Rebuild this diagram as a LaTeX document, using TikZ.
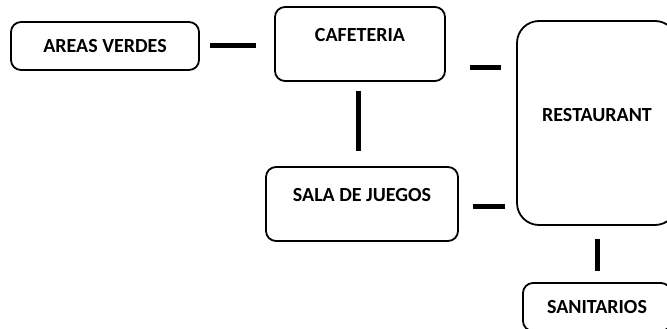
\documentclass[tikz,border=0pt]{standalone}
\usepackage{fontspec}
\setmainfont{Carlito}
\usetikzlibrary{calc,positioning}

\begin{document}
\begin{tikzpicture}[
  x=1pt, y=-1pt,
  every node/.style={font=\fontsize{20}{24}\selectfont\bfseries},
  area/.style={
    draw, line width=1.8pt, rounded corners=10pt, inner sep=0pt,
  },
  areatext/.style={inner sep=0pt},
  link/.style={line width=5pt},
]
\useasboundingbox (0,0) rectangle (667,329);
\clip (0,0) rectangle (667,329);

% === Areas ===
\node[area, minimum width=188pt, minimum height=48pt] (verdes) at (105, 46) {};
\node[area, minimum width=170pt, minimum height=74pt] (cafe) at (360, 44) {};
\node[area, minimum width=192pt, minimum height=74pt] (juegos) at (362, 204) {};
\node[area, rounded corners=22pt, minimum width=160pt, minimum height=204pt] (rest) at (597, 123) {};
\node[area, minimum width=148pt, minimum height=48pt] (sanit) at (597, 307) {};

% === Labels ===
\node[areatext] (verdesT) at (verdes.center) {AREAS VERDES};
\node[areatext] (cafeT) at ([yshift=8.5pt]cafe.center) {CAFETERIA};
\node[areatext] (juegosT) at ([yshift=9pt]juegos.center) {SALA DE JUEGOS};
\node[areatext] (restT) at ([yshift=8pt]rest.center) {RESTAURANT};
\node[areatext] (sanitT) at (sanit.center) {SANITARIOS};

% === Links ===
\draw[link, shorten <=10pt, shorten >=18pt] (verdes.east) -- (verdes.east -| cafe.west);
\draw[link, shorten <=24pt, shorten >=15pt] ([yshift=-24pt]cafe.east) -- ([yshift=-24pt]cafe.east -| rest.west);
\draw[link, shorten <=9pt, shorten >=15pt] ([xshift=-2pt]cafe.south) -- ([xshift=-2pt]cafe.south |- juegos.north);
\draw[link, shorten <=14pt, shorten >=11pt] ([yshift=-2pt]juegos.east) -- ([yshift=-2pt]juegos.east -| rest.west);
\draw[link, shorten <=13pt, shorten >=11pt] (rest.south) -- (sanit.north);

\end{tikzpicture}
\end{document}
